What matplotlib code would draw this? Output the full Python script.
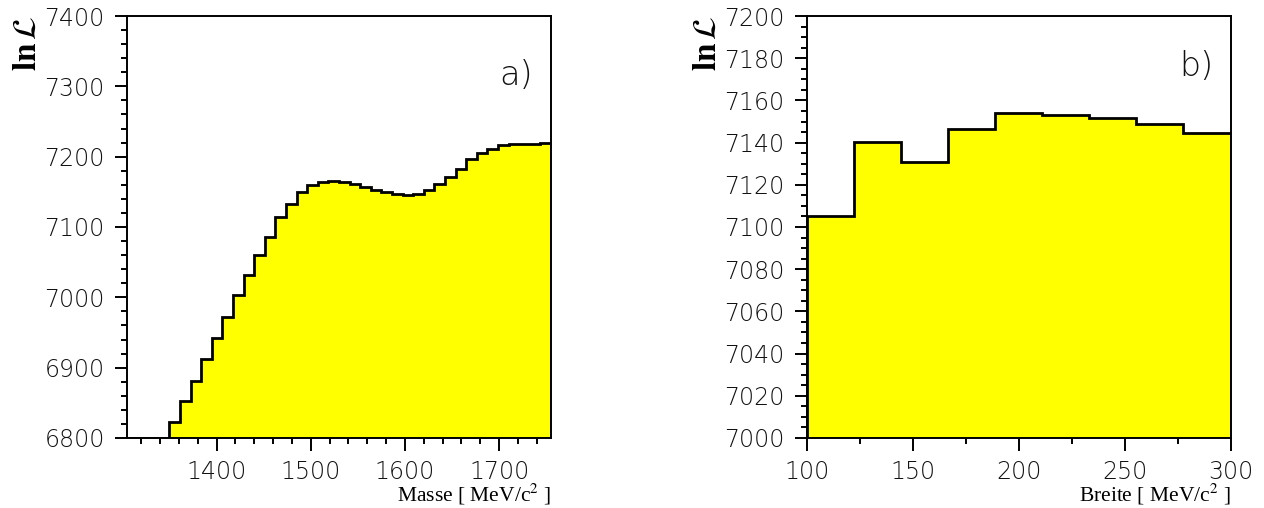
import numpy as np
import matplotlib
matplotlib.use("Agg")
import matplotlib.pyplot as plt
from matplotlib.ticker import MultipleLocator

# Scan a): log-likelihood vs. resonance mass, 40 bins from 1305 to 1755 MeV/c^2
mass_lo, mass_hi, mass_nbins = 1305.0, 1755.0, 40
lnl_mass = [
    6800.0, 6800.0, 6800.0, 6800.0, 6822.7, 6852.6, 6881.5, 6911.9, 6941.7, 6972.0,
    7003.3, 7031.8, 7060.2, 7086.3, 7113.8, 7132.7, 7150.3, 7159.3, 7164.5, 7165.9,
    7164.0, 7161.2, 7157.4, 7153.1, 7149.8, 7146.5, 7145.1, 7146.9, 7152.6, 7161.6,
    7170.7, 7182.8, 7197.0, 7205.5, 7210.2, 7215.9, 7217.3, 7218.2, 7217.7, 7219.0,
]

# Scan b): log-likelihood vs. resonance width, 9 bins from 100 to 300 MeV/c^2
width_lo, width_hi, width_nbins = 100.0, 300.0, 9
lnl_width = [7105.1, 7140.1, 7130.8, 7146.6, 7154.2, 7152.9, 7151.8, 7148.8, 7144.7]

mass_xticks = [1400, 1500, 1600, 1700]
mass_yticks = [6800, 6900, 7000, 7100, 7200, 7300, 7400]
width_xticks = [100, 150, 200, 250, 300]
width_yticks = [7000, 7020, 7040, 7060, 7080, 7100, 7120, 7140, 7160, 7180, 7200]

FILL = "#ffff00"
TICK_FAMILY = ["DejaVu Sans"]
TICK_WEIGHT = 200
TICK_SIZE = 17
TEXT_COLOR = "#111111"

plt.rcParams["mathtext.fontset"] = "stix"

fig = plt.figure(figsize=(12.64, 5.08), dpi=100)
ax_a = fig.add_axes([0.1005, 0.1378, 0.3354, 0.8307])
ax_b = fig.add_axes([0.6384, 0.1378, 0.3351, 0.8307])


def draw_scan(ax, lo, hi, nbins, values, ylim, xticks, yticks, xminor, yminor,
              xlabel, tag, tag_pos):
    edges = np.linspace(lo, hi, nbins + 1)
    ax.stairs(values, edges, baseline=ylim[0], fill=True, color=FILL, lw=0)
    ax.stairs(values, edges, baseline=ylim[0], fill=False, color="black", lw=2.0)
    ax.set_xlim(lo, hi)
    ax.set_ylim(*ylim)
    ax.set_xticks(xticks)
    ax.set_yticks(yticks)
    ax.xaxis.set_minor_locator(MultipleLocator(xminor))
    ax.yaxis.set_minor_locator(MultipleLocator(yminor))
    ax.tick_params(which="major", direction="out", length=9, width=1.4, pad=7)
    ax.tick_params(which="minor", direction="out", length=4.5, width=1.4)
    for lab in ax.get_xticklabels() + ax.get_yticklabels():
        lab.set_fontfamily(TICK_FAMILY)
        lab.set_fontweight(TICK_WEIGHT)
        lab.set_fontsize(TICK_SIZE)
        lab.set_color(TEXT_COLOR)
    for sp in ax.spines.values():
        sp.set_linewidth(1.4)
        sp.set_zorder(5)
    ax.text(1.0, -0.151, xlabel, transform=ax.transAxes, ha="right", va="baseline",
            family=["Liberation Serif", "DejaVu Serif"], fontsize=15.5)
    ax.text(tag_pos[0], tag_pos[1], tag, transform=ax.transAxes, ha="center",
            va="center", fontsize=24, family=TICK_FAMILY,
            weight=TICK_WEIGHT, color=TEXT_COLOR)


draw_scan(ax_a, mass_lo, mass_hi, mass_nbins, lnl_mass, (6800, 7400),
          mass_xticks, mass_yticks, 20, 20,
          r"Masse [ MeV/c$^{2}$ ]", "a)", (0.917, 0.858))
draw_scan(ax_b, width_lo, width_hi, width_nbins, lnl_width, (7000, 7200),
          width_xticks, width_yticks, 25, 5,
          r"Breite [ MeV/c$^{2}$ ]", "b)", (0.92, 0.881))

# log-likelihood axis titles at the top of each y axis
for x in (0.021, 0.559):
    fig.text(x, 0.97, r"$\mathbf{ln}\,\mathcal{L}$", rotation=90, ha="center",
             va="top", fontsize=24)

fig.savefig("out.png", dpi=100)
